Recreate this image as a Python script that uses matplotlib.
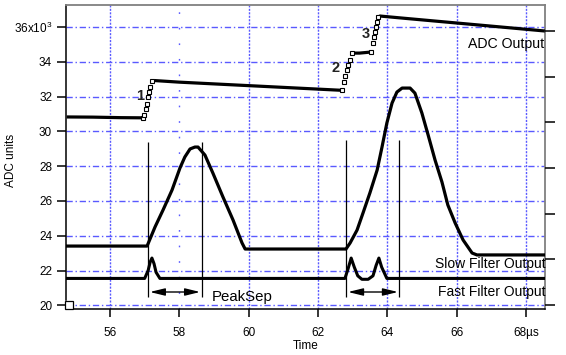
import numpy as np
import matplotlib
matplotlib.use("Agg")
import matplotlib.pyplot as plt
from matplotlib.ticker import FixedLocator, FuncFormatter, NullFormatter

plt.rcParams['font.family'] = ['Liberation Sans', 'DejaVu Sans']
plt.rcParams['mathtext.default'] = 'regular'

# ---------------- data (time in µs, values in thousands of ADC units) -------------
adc_t = [54.75, 55.5, 56.3, 56.95, 56.98, 57.04, 57.07, 57.10, 57.13, 57.15, 57.21,
         57.3, 58.0, 59.0, 60.0, 61.0, 62.0, 62.70, 62.75, 62.78, 62.84, 62.87, 62.93,
         62.98, 63.2, 63.53, 63.59, 63.62, 63.65, 63.68, 63.71, 63.73, 63.79,
         64.5, 65.5, 66.5, 67.5, 68.55]
adc_v = [30.83, 30.82, 30.79, 30.78, 30.94, 31.29, 31.60, 31.98, 32.26, 32.55, 32.90,
         32.92, 32.83, 32.73, 32.63, 32.53, 32.43, 32.36, 32.84, 33.18, 33.53, 33.82, 34.10,
         34.50, 34.50, 34.56, 35.08, 35.40, 35.70, 36.00, 36.30, 36.55, 36.63,
         36.50, 36.32, 36.14, 35.96, 35.77]

slow_t = [54.75, 57.07, 57.30, 57.53, 57.79, 58.02, 58.16, 58.31, 58.45, 58.54, 58.74,
          58.97, 59.26, 59.55, 59.81, 59.90, 61.0, 62.81, 62.93, 63.13, 63.30, 63.50,
          63.71, 63.85, 63.99, 64.14, 64.28, 64.43, 64.66, 64.80, 65.00, 65.18, 65.38,
          65.58, 65.75, 65.96, 66.19, 66.45, 66.59, 68.55]
slow_v = [23.41, 23.41, 24.51, 25.48, 26.63, 27.90, 28.53, 28.99, 29.10, 29.10, 28.64,
          27.60, 26.23, 24.91, 23.59, 23.24, 23.24, 23.24, 23.59, 24.33, 25.30, 26.46,
          27.78, 29.10, 30.48, 31.63, 32.26, 32.49, 32.49, 32.20, 31.06, 29.80, 28.36,
          27.09, 25.77, 24.74, 23.76, 23.01, 22.90, 22.90]

fast_t = [54.75, 57.00, 57.10, 57.16, 57.21, 57.27, 57.33, 57.44, 62.78, 62.87, 62.96,
          63.05, 63.15, 63.27, 63.45, 63.59, 63.68, 63.76, 63.84, 63.99, 68.55]
fast_v = [21.55, 21.55, 22.00, 22.50, 22.72, 22.40, 21.90, 21.55, 21.55, 22.10, 22.72,
          22.20, 21.70, 21.50, 21.50, 21.70, 22.30, 22.72, 22.20, 21.55, 21.55]

# peak-separation markers
mark_t = [57.10, 58.66, 62.81, 64.34]
mark_top = [29.39, 29.39, 29.50, 29.50]
mark_bottom = 20.48
arrow_pairs = [(57.15, 58.60), (62.87, 64.31)]
arrow_v = 20.77

step_labels = ['1', '2', '3']
step_label_t = [56.87, 62.52, 63.39]
step_label_v = [32.03, 33.64, 35.60]

origin_marker_t = [54.82]
origin_marker_v = [20.0]

x_ticks = [56, 58, 60, 62, 64, 66, 68]
y_ticks = [20, 22, 24, 26, 28, 30, 32, 34, 36]
right_ticks = [0, 1, 2, 3, 4, 5, 6]

# ---------------- figure ----------------
W, H = 566, 355
fig = plt.figure(figsize=(W / 100, H / 100), dpi=100)
L, R, T, B = 66, 545, 5, 309
ax = fig.add_axes([L / W, 1 - B / H, (R - L) / W, (B - T) / H])
ax.set_xlim(54.730, 68.554)
ax.set_ylim(19.793, 37.264)

grid_c = '#5a5aff'
for y in y_ticks:
    ax.axhline(y, color=grid_c, lw=1.0, dashes=(4.5, 2, 1, 2), zorder=0)
for x in x_ticks:
    if x == 58:
        ax.axvline(x, color=grid_c, lw=1.0, dashes=(1.2, 10), zorder=0)
    else:
        ax.axvline(x, color=grid_c, lw=1.0, dashes=(1.5, 1.0), zorder=0)

# ADC output: flat parts as thick lines, fast steps as sparse open squares
t = np.array(adc_t)
v = np.array(adc_v)
steep = np.abs(np.diff(v) / np.diff(t)) > 3
runs, cur = [], [0]
for i in range(len(t) - 1):
    if steep[i]:
        if len(cur) > 1:
            runs.append(cur)
        cur = [i + 1]
    else:
        cur.append(i + 1)
if len(cur) > 1:
    runs.append(cur)
for r in runs:
    ax.plot(t[r], v[r], color='black', lw=2.3, solid_capstyle='butt', zorder=3)
step_pts = [i for i in range(len(t))
            if (i > 0 and steep[i - 1]) or (i < len(t) - 1 and steep[i])]
ax.plot(t[step_pts], v[step_pts], ls='none', marker='s', ms=2.4, mfc='white',
        mec='black', mew=0.8, zorder=4)

ax.plot(slow_t, slow_v, color='black', lw=2.3, zorder=3)
ax.plot(fast_t, fast_v, color='black', lw=2.2, zorder=3)

ax.plot(origin_marker_t, origin_marker_v, ls='none', marker='s', ms=5.5,
        mfc='white', mec='black', mew=0.9, clip_on=False, zorder=5)

# markers & arrows
ax.vlines(mark_t, mark_bottom, mark_top, color='black', lw=0.9, zorder=4)
for x1, x2 in arrow_pairs:
    ax.annotate('', xy=(x2, arrow_v), xytext=(x1, arrow_v),
                arrowprops=dict(arrowstyle='<|-|>,head_length=0.9,head_width=0.22',
                                color='black', lw=1.0, shrinkA=0, shrinkB=0),
                zorder=5)
ax.text(58.94, 20.50, 'PeakSep', fontsize=10.8, ha='left', va='center', zorder=6)

for s, x, y in zip(step_labels, step_label_t, step_label_v):
    ax.text(x, y, s, fontsize=10.5, fontweight='bold', ha='center', va='center',
            color='#222222', zorder=6)

ax.text(68.52, 35.02, 'ADC Output', fontsize=10.2, ha='right', va='center', zorder=6)
ax.text(68.56, 22.38, 'Slow Filter Output', fontsize=10, ha='right', va='center', zorder=6)
ax.text(68.56, 20.77, 'Fast Filter Output', fontsize=10, ha='right', va='center', zorder=6)

# axes styling
for side in ('top', 'right'):
    ax.spines[side].set_color('#808080')
    ax.spines[side].set_linewidth(1.3)
ax.spines['left'].set_bounds(20.31, 37.264)
ax.spines['bottom'].set_bounds(54.96, 68.554)
ax.spines['left'].set_linewidth(1.1)
ax.spines['bottom'].set_linewidth(1.1)

ax.xaxis.set_major_locator(FixedLocator(x_ticks))
ax.yaxis.set_major_locator(FixedLocator(y_ticks))
ax.xaxis.set_major_formatter(FuncFormatter(lambda x, p: '68µs' if x == 68 else f'{x:.0f}'))
ax.yaxis.set_major_formatter(FuncFormatter(
    lambda y, p: r'36x10$^{\mathregular{3}}$' if y == 36 else f'{y:.0f}'))
ax.tick_params(axis='x', direction='out', length=6, width=1.1, pad=7, labelsize=8.5,
               top=False)
ax.tick_params(axis='y', direction='out', length=6.5, width=1.1, pad=3.5, labelsize=8.5,
               right=False)

ax.set_xlabel('Time', fontsize=8.5)
ax.xaxis.set_label_coords(0.5, -0.102)
ax.set_ylabel('ADC units', fontsize=8.5)
ax.yaxis.set_label_coords(-0.103, 0.49)

ax2 = ax.twinx()
ax2.set_ylim(-0.0875, 6.565)
for sp in ax2.spines.values():
    sp.set_visible(False)
ax2.yaxis.set_major_locator(FixedLocator(right_ticks))
ax2.yaxis.set_major_formatter(NullFormatter())
ax2.tick_params(axis='y', direction='out', length=7, width=1.1, right=True, left=False)

fig.savefig('out.png', dpi=100)
